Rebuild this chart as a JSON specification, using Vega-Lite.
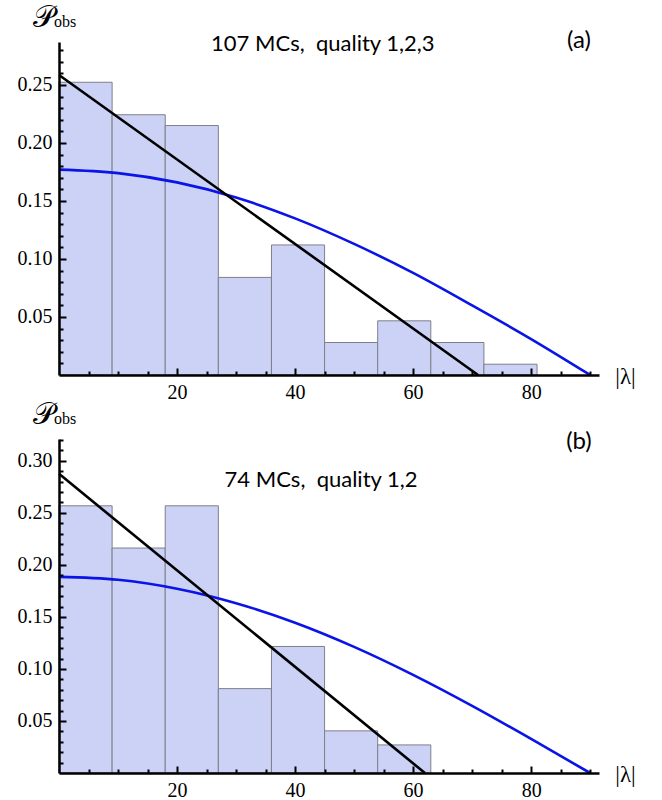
{
  "$schema": "https://vega.github.io/schema/vega-lite/v6.json",
  "background": "white",
  "padding": {"left": 17, "top": 3, "right": 5, "bottom": 0},
  "spacing": -2,
  "config": {
    "view": {"stroke": null},
    "axis": {
      "labelFont": "Liberation Serif",
      "labelFontSize": 20,
      "labelColor": "black",
      "domainColor": "black",
      "domainWidth": 2.5,
      "tickColor": "black",
      "tickWidth": 2,
      "grid": false
    }
  },
  "datasets": {
    "barsA": [
      {"lo": 0, "hi": 9, "p": 0.2523},
      {"lo": 9, "hi": 18, "p": 0.2243},
      {"lo": 18, "hi": 27, "p": 0.2150},
      {"lo": 27, "hi": 36, "p": 0.0841},
      {"lo": 36, "hi": 45, "p": 0.1121},
      {"lo": 45, "hi": 54, "p": 0.0280},
      {"lo": 54, "hi": 63, "p": 0.0467},
      {"lo": 63, "hi": 72, "p": 0.0280},
      {"lo": 72, "hi": 81, "p": 0.0093}
    ],
    "barsB": [
      {"lo": 0, "hi": 9, "p": 0.2568},
      {"lo": 9, "hi": 18, "p": 0.2162},
      {"lo": 18, "hi": 27, "p": 0.2568},
      {"lo": 27, "hi": 36, "p": 0.0811},
      {"lo": 36, "hi": 45, "p": 0.1216},
      {"lo": 45, "hi": 54, "p": 0.0405},
      {"lo": 54, "hi": 63, "p": 0.0270}
    ],
    "blueA": [
      {"lam": 0, "p": 0.177},
      {"lam": 10, "p": 0.174},
      {"lam": 20, "p": 0.166},
      {"lam": 30, "p": 0.153},
      {"lam": 40, "p": 0.135},
      {"lam": 50, "p": 0.113},
      {"lam": 60, "p": 0.088},
      {"lam": 70, "p": 0.060},
      {"lam": 80, "p": 0.031},
      {"lam": 90, "p": 0.0}
    ],
    "blueB": [
      {"lam": 0, "p": 0.1885},
      {"lam": 10, "p": 0.1857},
      {"lam": 20, "p": 0.1771},
      {"lam": 30, "p": 0.1632},
      {"lam": 40, "p": 0.1444},
      {"lam": 50, "p": 0.1212},
      {"lam": 60, "p": 0.0943},
      {"lam": 70, "p": 0.0645},
      {"lam": 80, "p": 0.0327},
      {"lam": 90, "p": 0.0}
    ],
    "blackA": [
      {"lam": 0, "p": 0.2586},
      {"lam": 71, "p": 0.0}
    ],
    "blackB": [
      {"lam": 0, "p": 0.2875},
      {"lam": 62, "p": 0.0}
    ]
  },
  "vconcat": [
    {
      "width": 540,
      "height": 333,
      "resolve": {"axis": {"x": "independent", "y": "independent"}},
      "layer": [
        {
          "data": {"name": "barsA"},
          "mark": {"type": "rect", "fill": "#CBD2F5", "stroke": "#7f7f8a", "strokeWidth": 1},
          "encoding": {
            "x": {
              "field": "lo", "type": "quantitative",
              "scale": {"domain": [0, 91.5], "nice": false},
              "axis": {
                "orient": "bottom",
                "values": [20, 40, 60, 80],
                "tickSize": -7,
                "labelPadding": 14,
                "labelOverlap": false,
                "zindex": 3,
                "title": "|λ|",
                "titleAngle": 0,
                "titleX": 566,
                "titleY": 1,
                "titleAlign": "center",
                "titleBaseline": "middle",
                "titleFont": "Liberation Serif",
                "titleFontSize": 23,
                "titleFontWeight": "normal",
                "titleColor": "black"
              }
            },
            "x2": {"field": "hi"},
            "y": {
              "field": "p", "type": "quantitative",
              "scale": {"domain": [0, 0.287], "nice": false},
              "axis": {
                "orient": "left",
                "values": [0.05, 0.1, 0.15, 0.2, 0.25],
                "format": ".2f",
                "tickSize": -7,
                "labelPadding": 14,
                "labelOverlap": false,
                "zindex": 3,
                "title": null
              }
            },
            "y2": {"datum": 0}
          }
        },
        {
          "data": {"name": "blueA"},
          "mark": {"type": "line", "color": "#0a14e6", "strokeWidth": 2.6, "interpolate": "monotone"},
          "encoding": {
            "x": {"field": "lam", "type": "quantitative",
              "axis": {"orient": "bottom", "values": [5, 10, 15, 25, 30, 35, 45, 50, 55, 65, 70, 75, 85, 90], "labels": false, "domain": false, "tickSize": -4, "zindex": 3, "title": null}},
            "y": {"field": "p", "type": "quantitative",
              "axis": {"orient": "left", "values": [0.01, 0.02, 0.03, 0.04, 0.06, 0.07, 0.08, 0.09, 0.11, 0.12, 0.13, 0.14, 0.16, 0.17, 0.18, 0.19, 0.21, 0.22, 0.23, 0.24, 0.26, 0.27, 0.28], "labels": false, "domain": false, "tickSize": -4, "zindex": 3, "title": null}}
          }
        },
        {
          "data": {"name": "blackA"},
          "mark": {"type": "line", "color": "black", "strokeWidth": 2.6},
          "encoding": {
            "x": {"field": "lam", "type": "quantitative", "axis": {"orient": "bottom", "labels": false, "ticks": false, "domain": false, "title": null}},
            "y": {"field": "p", "type": "quantitative", "axis": {"orient": "left", "labels": false, "ticks": false, "domain": false, "title": null}}
          }
        },
        {
          "data": {"values": [{}]},
          "mark": {"type": "text", "text": "107 MCs,\u00a0 quality 1,2,3", "font": "Lato", "fontSize": 22, "color": "black", "align": "center", "baseline": "middle"},
          "encoding": {
            "x": {"datum": 44.7, "type": "quantitative", "axis": {"orient": "bottom", "labels": false, "ticks": false, "domain": false, "title": null}},
            "y": {"datum": 0.2853, "type": "quantitative", "axis": {"orient": "left", "labels": false, "ticks": false, "domain": false, "title": null}}
          }
        },
        {
          "data": {"values": [{}]},
          "mark": {"type": "text", "text": "(a)", "font": "Lato", "fontSize": 24, "color": "black", "align": "center", "baseline": "middle"},
          "encoding": {
            "x": {"datum": 88.1, "type": "quantitative", "axis": {"orient": "bottom", "labels": false, "ticks": false, "domain": false, "title": null}},
            "y": {"datum": 0.2879, "type": "quantitative", "axis": {"orient": "left", "labels": false, "ticks": false, "domain": false, "title": null}}
          }
        },
        {
          "data": {"values": [{}]},
          "mark": {"type": "text", "text": "𝒫", "font": "Liberation Serif", "fontSize": 30, "color": "black", "align": "center", "baseline": "middle", "dx": -15, "dy": -24},
          "encoding": {
            "x": {"datum": 0, "type": "quantitative", "axis": {"orient": "bottom", "labels": false, "ticks": false, "domain": false, "title": null}},
            "y": {"datum": 0.287, "type": "quantitative", "axis": {"orient": "left", "labels": false, "ticks": false, "domain": false, "title": null}}
          }
        },
        {
          "data": {"values": [{}]},
          "mark": {"type": "text", "text": "obs", "font": "Liberation Serif", "fontSize": 16, "color": "black", "align": "left", "baseline": "alphabetic", "dx": -5, "dy": -15},
          "encoding": {
            "x": {"datum": 0, "type": "quantitative", "axis": {"orient": "bottom", "labels": false, "ticks": false, "domain": false, "title": null}},
            "y": {"datum": 0.287, "type": "quantitative", "axis": {"orient": "left", "labels": false, "ticks": false, "domain": false, "title": null}}
          }
        }
      ]
    },
    {
      "width": 540,
      "height": 334,
      "resolve": {"axis": {"x": "independent", "y": "independent"}},
      "layer": [
        {
          "data": {"name": "barsB"},
          "mark": {"type": "rect", "fill": "#CBD2F5", "stroke": "#7f7f8a", "strokeWidth": 1},
          "encoding": {
            "x": {
              "field": "lo", "type": "quantitative",
              "scale": {"domain": [0, 91.5], "nice": false},
              "axis": {
                "orient": "bottom",
                "values": [20, 40, 60, 80],
                "tickSize": -7,
                "labelPadding": 14,
                "labelOverlap": false,
                "zindex": 3,
                "title": "|λ|",
                "titleAngle": 0,
                "titleX": 566,
                "titleY": 1,
                "titleAlign": "center",
                "titleBaseline": "middle",
                "titleFont": "Liberation Serif",
                "titleFontSize": 23,
                "titleFontWeight": "normal",
                "titleColor": "black"
              }
            },
            "x2": {"field": "hi"},
            "y": {
              "field": "p", "type": "quantitative",
              "scale": {"domain": [0, 0.321], "nice": false},
              "axis": {
                "orient": "left",
                "values": [0.05, 0.1, 0.15, 0.2, 0.25, 0.3],
                "format": ".2f",
                "tickSize": -7,
                "labelPadding": 14,
                "labelOverlap": false,
                "zindex": 3,
                "title": null
              }
            },
            "y2": {"datum": 0}
          }
        },
        {
          "data": {"name": "blueB"},
          "mark": {"type": "line", "color": "#0a14e6", "strokeWidth": 2.6, "interpolate": "monotone"},
          "encoding": {
            "x": {"field": "lam", "type": "quantitative",
              "axis": {"orient": "bottom", "values": [5, 10, 15, 25, 30, 35, 45, 50, 55, 65, 70, 75, 85, 90], "labels": false, "domain": false, "tickSize": -4, "zindex": 3, "title": null}},
            "y": {"field": "p", "type": "quantitative",
              "axis": {"orient": "left", "values": [0.01, 0.02, 0.03, 0.04, 0.06, 0.07, 0.08, 0.09, 0.11, 0.12, 0.13, 0.14, 0.16, 0.17, 0.18, 0.19, 0.21, 0.22, 0.23, 0.24, 0.26, 0.27, 0.28, 0.29, 0.31, 0.32], "labels": false, "domain": false, "tickSize": -4, "zindex": 3, "title": null}}
          }
        },
        {
          "data": {"name": "blackB"},
          "mark": {"type": "line", "color": "black", "strokeWidth": 2.6},
          "encoding": {
            "x": {"field": "lam", "type": "quantitative", "axis": {"orient": "bottom", "labels": false, "ticks": false, "domain": false, "title": null}},
            "y": {"field": "p", "type": "quantitative", "axis": {"orient": "left", "labels": false, "ticks": false, "domain": false, "title": null}}
          }
        },
        {
          "data": {"values": [{}]},
          "mark": {"type": "text", "text": "74 MCs,\u00a0 quality 1,2", "font": "Lato", "fontSize": 22, "color": "black", "align": "center", "baseline": "middle"},
          "encoding": {
            "x": {"datum": 44.4, "type": "quantitative", "axis": {"orient": "bottom", "labels": false, "ticks": false, "domain": false, "title": null}},
            "y": {"datum": 0.2817, "type": "quantitative", "axis": {"orient": "left", "labels": false, "ticks": false, "domain": false, "title": null}}
          }
        },
        {
          "data": {"values": [{}]},
          "mark": {"type": "text", "text": "(b)", "font": "Lato", "fontSize": 24, "color": "black", "align": "center", "baseline": "middle"},
          "encoding": {
            "x": {"datum": 88.1, "type": "quantitative", "axis": {"orient": "bottom", "labels": false, "ticks": false, "domain": false, "title": null}},
            "y": {"datum": 0.318, "type": "quantitative", "axis": {"orient": "left", "labels": false, "ticks": false, "domain": false, "title": null}}
          }
        },
        {
          "data": {"values": [{}]},
          "mark": {"type": "text", "text": "𝒫", "font": "Liberation Serif", "fontSize": 30, "color": "black", "align": "center", "baseline": "middle", "dx": -15, "dy": -24},
          "encoding": {
            "x": {"datum": 0, "type": "quantitative", "axis": {"orient": "bottom", "labels": false, "ticks": false, "domain": false, "title": null}},
            "y": {"datum": 0.321, "type": "quantitative", "axis": {"orient": "left", "labels": false, "ticks": false, "domain": false, "title": null}}
          }
        },
        {
          "data": {"values": [{}]},
          "mark": {"type": "text", "text": "obs", "font": "Liberation Serif", "fontSize": 16, "color": "black", "align": "left", "baseline": "alphabetic", "dx": -5, "dy": -15},
          "encoding": {
            "x": {"datum": 0, "type": "quantitative", "axis": {"orient": "bottom", "labels": false, "ticks": false, "domain": false, "title": null}},
            "y": {"datum": 0.321, "type": "quantitative", "axis": {"orient": "left", "labels": false, "ticks": false, "domain": false, "title": null}}
          }
        }
      ]
    }
  ]
}
